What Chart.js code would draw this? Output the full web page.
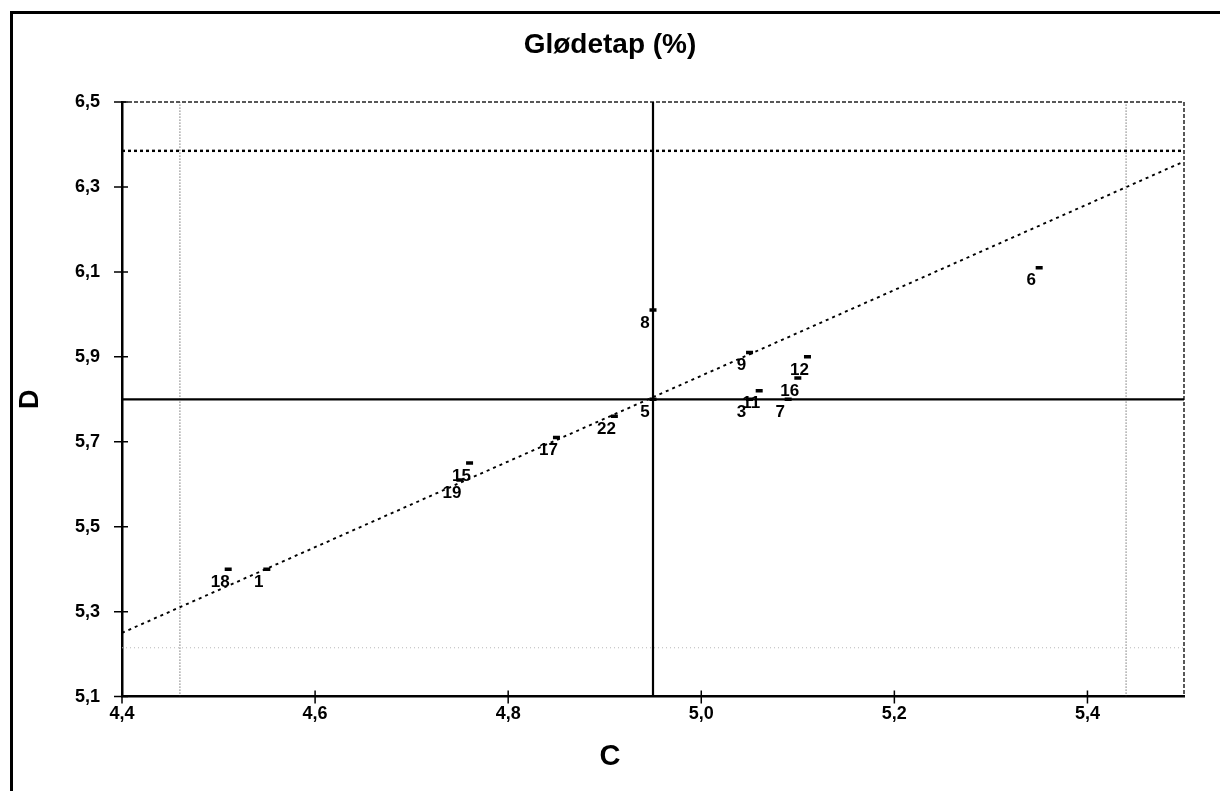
<!DOCTYPE html>
<html>
<head>
<meta charset="utf-8">
<title>Glødetap (%)</title>
<script src="https://cdn.jsdelivr.net/npm/chart.js@4.4.0/dist/chart.umd.min.js"></script>
<style>
  html, body { margin: 0; padding: 0; background: #fff; }
  #wrap { position: relative; width: 1220px; height: 791px; overflow: hidden; }
  #frame { position: absolute; left: 10px; top: 11px; width: 1300px; height: 900px;
           border-left: 3px solid #000; border-top: 3px solid #000; }
  #myChart { position: absolute; left: 0; top: 0; }
</style>
</head>
<body>
<div id="wrap">
  <div id="frame"></div>
  <canvas id="myChart" width="1220" height="791"></canvas>
</div>
<script>
// prøvenummer og verdier (C = lab C, D = lab D)
var pointLabels = ['1', '3', '5', '6', '7', '8', '9', '11', '12', '15', '16', '17', '18', '19', '22'];
var cValues = [4.55, 5.05, 4.95, 5.35, 5.09, 4.95, 5.05, 5.06, 5.11, 4.76, 5.10, 4.85, 4.51, 4.75, 4.91];
var dValues = [5.40, 5.80, 5.80, 6.11, 5.80, 6.01, 5.91, 5.82, 5.90, 5.65, 5.85, 5.71, 5.40, 5.61, 5.76];

var xTicks = [4.4, 4.6, 4.8, 5.0, 5.2, 5.4];
var yTicks = [5.1, 5.3, 5.5, 5.7, 5.9, 6.1, 6.3, 6.5];
var xRange = [4.4, 5.5];
var yRange = [5.1, 6.5];

// median og grenser
var cMedian = 4.95;
var cLimits = [4.46, 5.44];
var dMedian = 5.80;
var dLimits = [5.215, 6.385];

// regresjonslinje, endepunkter
var fitX = [4.4, 5.5];
var fitY = [5.25, 6.36];

var FONT = "'Liberation Sans', Arial, sans-serif";
Chart.defaults.font.family = FONT;
Chart.defaults.color = '#000';

function fmt(v) {
  return v.toFixed(1).replace('.', ',');
}

function refLine(xs, ys, width, dash, color) {
  return {
    type: 'line',
    data: [{ x: xs[0], y: ys[0] }, { x: xs[1], y: ys[1] }],
    borderColor: color || '#000',
    borderWidth: width,
    borderDash: dash || [],
    pointRadius: 0,
    fill: false
  };
}

// stiplet ramme oppe/til høyre + tikkmerker som krysser aksene
var plotFrame = {
  id: 'plotFrame',
  beforeDatasetsDraw: function (chart) {
    var a = chart.chartArea, ctx = chart.ctx;
    ctx.save();
    ctx.strokeStyle = '#222';
    ctx.lineWidth = 1.5;
    ctx.setLineDash([4, 2]);
    ctx.beginPath();
    ctx.moveTo(a.left, a.top);
    ctx.lineTo(a.right, a.top);
    ctx.lineTo(a.right, a.bottom);
    ctx.stroke();
    ctx.restore();
  },
  afterDraw: function (chart) {
    var a = chart.chartArea, ctx = chart.ctx;
    var xs = chart.scales.x, ys = chart.scales.y;
    ctx.save();
    ctx.strokeStyle = '#000';
    ctx.lineWidth = 1.5;
    ctx.beginPath();
    xTicks.forEach(function (v) {
      var px = xs.getPixelForValue(v);
      ctx.moveTo(px, a.bottom - 6);
      ctx.lineTo(px, a.bottom + 7);
    });
    yTicks.forEach(function (v) {
      var py = ys.getPixelForValue(v);
      ctx.moveTo(a.left - 8, py);
      ctx.lineTo(a.left + 6, py);
    });
    ctx.stroke();
    ctx.restore();
  }
};

var pointNames = {
  id: 'pointNames',
  afterDatasetsDraw: function (chart) {
    var meta = chart.getDatasetMeta(0), ctx = chart.ctx;
    ctx.save();
    ctx.font = 'bold 17px ' + FONT;
    ctx.fillStyle = '#000';
    ctx.textAlign = 'center';
    ctx.textBaseline = 'middle';
    meta.data.forEach(function (pt, i) {
      ctx.fillText(pointLabels[i], pt.x - 8, pt.y + 13);
    });
    ctx.restore();
  }
};

var ctx = document.getElementById('myChart').getContext('2d');
var myChart = new Chart(ctx, {
  type: 'scatter',
  data: {
    datasets: [
      {
        data: cValues.map(function (c, i) { return { x: c, y: dValues[i] }; }),
        pointStyle: 'line',
        pointRadius: 3.5,
        pointBorderWidth: 3.5,
        borderColor: '#000',
        backgroundColor: '#000'
      },
      refLine(fitX, fitY, 1.9, [3, 4]),
      refLine(xRange, [dMedian, dMedian], 2.2),
      refLine([cMedian, cMedian], yRange, 2.2),
      refLine(xRange, [dLimits[1], dLimits[1]], 2.4, [3, 3]),
      refLine(xRange, [dLimits[0], dLimits[0]], 1, [1, 3], '#b8b8b8'),
      refLine([cLimits[0], cLimits[0]], yRange, 1, [1, 2], '#333'),
      refLine([cLimits[1], cLimits[1]], yRange, 1, [1, 2], '#333')
    ]
  },
  options: {
    responsive: false,
    animation: false,
    devicePixelRatio: 1,
    layout: { padding: { left: 36, right: 36, top: 0, bottom: 0 } },
    plugins: {
      legend: { display: false },
      tooltip: { enabled: false },
      title: {
        display: true,
        text: 'Glødetap (%)',
        color: '#000',
        font: { size: 28, weight: 'bold' },
        padding: { top: 28, bottom: 40.4 }
      },
      subtitle: {
        display: true,
        position: 'bottom',
        text: 'C',
        color: '#000',
        font: { size: 29, weight: 'bold' },
        padding: { top: 0, bottom: 16.6 }
      }
    },
    scales: {
      x: {
        type: 'linear',
        min: xRange[0],
        max: xRange[1],
        afterBuildTicks: function (scale) {
          scale.ticks = xTicks.map(function (v) { return { value: v }; });
        },
        afterFit: function (scale) { scale.height = 43; },
        grid: { display: false, drawTicks: true, tickLength: 7 },
        border: { display: true, color: '#000', width: 2.5 },
        ticks: {
          padding: 0,
          color: '#000',
          font: { size: 18, weight: 'bold' },
          callback: function (v) { return fmt(v); }
        }
      },
      y: {
        type: 'linear',
        min: yRange[0],
        max: yRange[1],
        afterBuildTicks: function (scale) {
          scale.ticks = yTicks.map(function (v) { return { value: v }; });
        },
        afterFit: function (scale) { scale.width = 86; },
        grid: { display: false, drawTicks: true, tickLength: 7 },
        border: { display: true, color: '#000', width: 2.5 },
        title: {
          display: true,
          text: 'D',
          color: '#000',
          font: { size: 27, weight: 'bold' },
          padding: { top: -22, bottom: 0 }
        },
        ticks: {
          padding: 15,
          color: '#000',
          font: { size: 18, weight: 'bold' },
          callback: function (v) { return fmt(v); }
        }
      }
    }
  },
  plugins: [plotFrame, pointNames]
});
</script>
</body>
</html>
